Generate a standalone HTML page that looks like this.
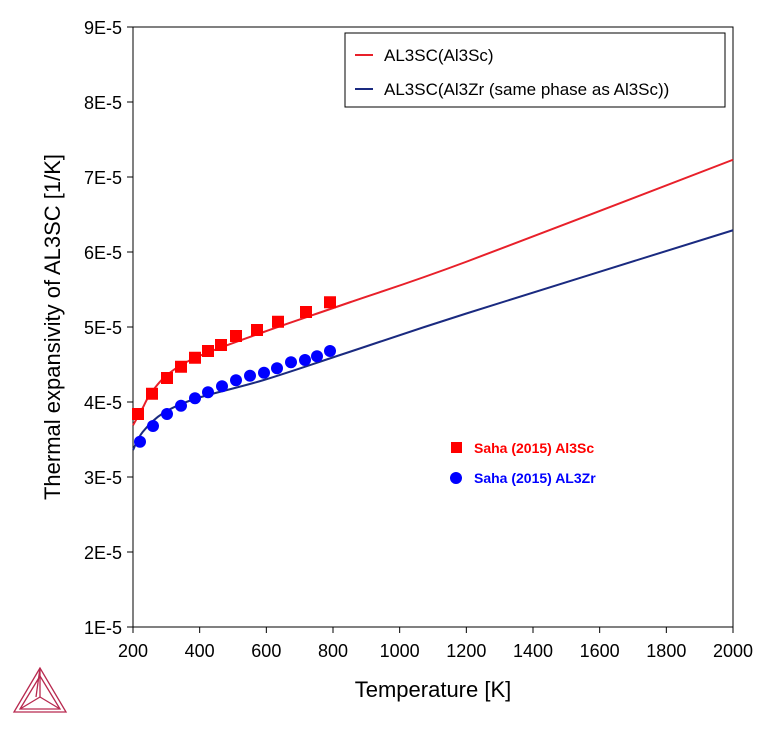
<!DOCTYPE html>
<html><head><meta charset="utf-8"><style>
body{margin:0;background:#fff;}
svg{font-family:"Liberation Sans",Arial,sans-serif;}
</style></head><body>
<svg id="chart" width="758" height="728">
<g id="ticks"></g>
<rect x="133" y="27" width="600" height="600" fill="none" stroke="#000" stroke-width="1"/>
<g id="series"></g>
<text x="433" y="697" text-anchor="middle" font-size="22">Temperature [K]</text>
<text transform="translate(60,327) rotate(-90)" text-anchor="middle" font-size="22">Thermal expansivity of AL3SC [1/K]</text>
<g>
<rect x="345" y="33" width="380" height="74" fill="#fff" stroke="#000"/>
<line x1="355" y1="55" x2="373" y2="55" stroke="#e8202a" stroke-width="2"/>
<text x="384" y="61" font-size="17">AL3SC(Al3Sc)</text>
<line x1="355" y1="89" x2="373" y2="89" stroke="#1a2a80" stroke-width="2"/>
<text x="384" y="95" font-size="17">AL3SC(Al3Zr (same phase as Al3Sc))</text>
</g>
<rect x="451" y="442" width="11" height="11" fill="#ff0000"/>
<text x="474" y="453" font-size="14" font-weight="bold" fill="#ff0000">Saha (2015) Al3Sc</text>
<circle cx="456" cy="478" r="6" fill="#0000ff"/>
<text x="474" y="483" font-size="14" font-weight="bold" fill="#0000ff">Saha (2015) AL3Zr</text>
<g fill="none" stroke="#b8294f" stroke-width="1.3">
<polygon points="40,668 14,712 66,712"/>
<polygon points="40,676 20,709 60,709"/>
<line x1="40" y1="668" x2="40" y2="697"/>
<line x1="40" y1="697" x2="20" y2="709"/><line x1="40" y1="697" x2="60" y2="709"/>
<line x1="40" y1="668" x2="36" y2="697"/>
</g>
</svg>
<script>
const xTicks=[200,400,600,800,1000,1200,1400,1600,1800,2000];
const yTicks=[1,2,3,4,5,6,7,8,9];
const curveT=[200,229,251,302,392,590,851,1200,2000];
const scCurve=[3.69,3.92,4.10,4.36,4.60,4.93,5.33,5.87,7.23];
const zrCurveT=[200,229,290,392,590,851,1200,2000];
const zrCurve=[3.36,3.60,3.85,4.05,4.29,4.67,5.18,6.29];
const scT=[215,257,302,344,386,425,464,509,572,635,719,791];
const scVals=[3.84,4.11,4.32,4.47,4.59,4.68,4.76,4.88,4.96,5.07,5.20,5.33];
const zrT=[221,260,302,344,386,425,467,509,551,593,632,674,716,752,791];
const zrVals=[3.47,3.68,3.84,3.95,4.05,4.13,4.21,4.29,4.35,4.39,4.45,4.53,4.56,4.61,4.68];
const NS='http://www.w3.org/2000/svg';
const X=t=>133+(t-200)/1800*600;
const Y=v=>627-(v-1)/8*600;
function mk(tag,attrs,parent){const e=document.createElementNS(NS,tag);for(const k in attrs)e.setAttribute(k,attrs[k]);parent.appendChild(e);return e;}
const tg=document.getElementById('ticks'),sg=document.getElementById('series');
xTicks.forEach(t=>{
 const l=mk('line',{x1:X(t),x2:X(t),y1:627,y2:633,stroke:'#000'},tg);
 
 
 const tx=mk('text',{x:X(t),y:657,'text-anchor':'middle','font-size':'18'},tg);tx.textContent=t;
 
 
});
yTicks.forEach(v=>{
 const l=mk('line',{x1:127,x2:133,y1:Y(v),y2:Y(v),stroke:'#000'},tg);
 
 
 const tx=mk('text',{x:122,y:Y(v)+7,'text-anchor':'end','font-size':'18'},tg);tx.textContent=v+'E-5';
 
 
});
function curve(ts,vs,col,name){
 const P=ts.map((t,i)=>[X(t),Y(vs[i])]);
 let d='M'+P[0][0]+','+P[0][1];
 for(let i=0;i<P.length-1;i++){
  const p0=P[Math.max(0,i-1)],p1=P[i],p2=P[i+1],p3=P[Math.min(P.length-1,i+2)];
  const c1=[p1[0]+(p2[0]-p0[0])/6,p1[1]+(p2[1]-p0[1])/6];
  const c2=[p2[0]-(p3[0]-p1[0])/6,p2[1]-(p3[1]-p1[1])/6];
  d+='C'+c1[0]+','+c1[1]+' '+c2[0]+','+c2[1]+' '+p2[0]+','+p2[1];
 }
 const p=mk('path',{d:d,fill:'none',stroke:col,'stroke-width':2},sg);
 
 
}
curve(curveT,scCurve,'#e8202a','line-al3sc');
curve(zrCurveT,zrCurve,'#1a2a80','line-al3zr');
scT.forEach((t,i)=>{
 const r=mk('rect',{x:X(t)-6,y:Y(scVals[i])-6,width:12,height:12,fill:'#ff0000'},sg);
 
 
});
zrT.forEach((t,i)=>{
 const c=mk('circle',{cx:X(t),cy:Y(zrVals[i]),r:6,fill:'#0000ff'},sg);
 
 
});
</script>
</body></html>
